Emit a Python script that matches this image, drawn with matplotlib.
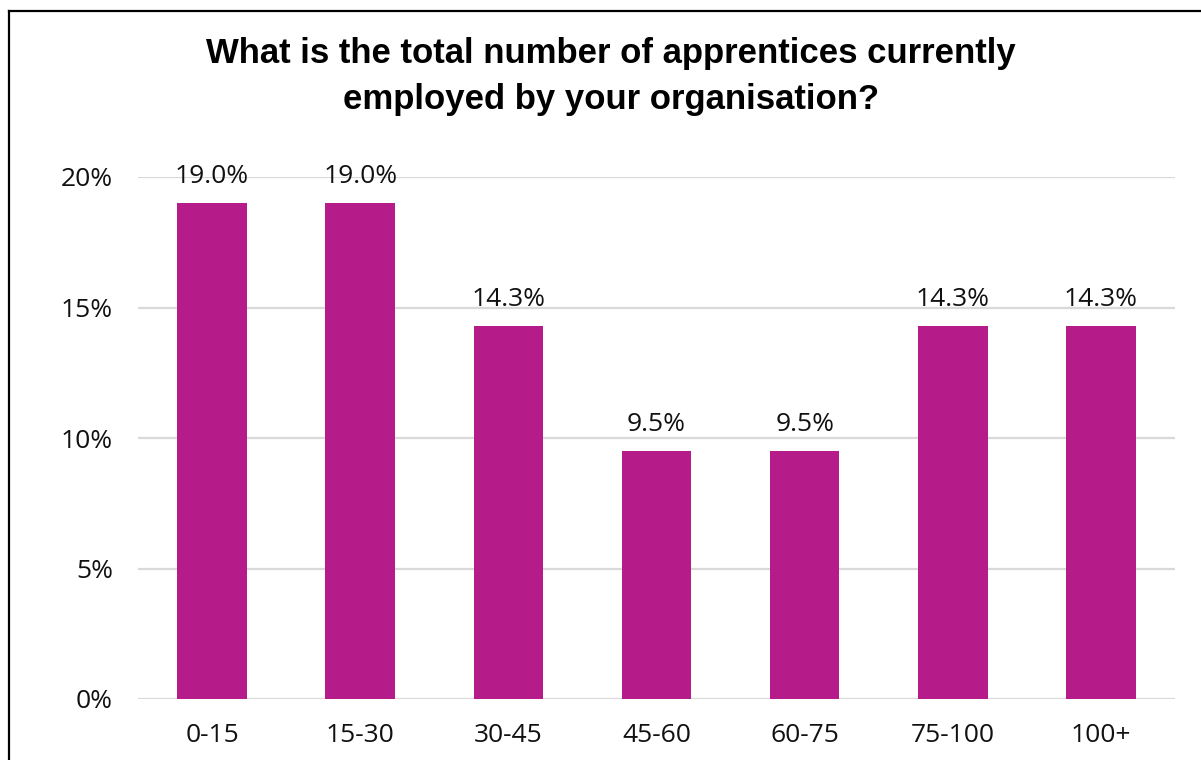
import matplotlib.pyplot as plt
from matplotlib.lines import Line2D

# Data
categories = ["0-15", "15-30", "30-45", "45-60", "60-75", "75-100", "100+"]
values = [19.0, 19.0, 14.3, 9.5, 9.5, 14.3, 14.3]
yticks = [0, 5, 10, 15, 20]

bar_color = "#B61B8A"
grid_color = "#D9D9D9"

plt.rcParams['font.family'] = ['Open Sans', 'DejaVu Sans']

fig = plt.figure(figsize=(12.01, 7.6), dpi=100)
ax = fig.add_axes([138/1201, 1 - 699/760, (1175 - 138)/1201, (699 - 177)/760])

x = range(len(categories))
bars = ax.bar(x, values, width=0.47, color=bar_color, zorder=3)

for b, v in zip(bars, values):
    ax.annotate(f"{v:.1f}%", (b.get_x() + b.get_width()/2, v),
                xytext=(0, 10), textcoords="offset points",
                ha="center", va="bottom", fontsize=19, color="#111111")

ax.set_xlim(-0.5, len(categories) - 0.5)
ax.set_ylim(0, 20)
ax.set_yticks(yticks)
ax.set_yticklabels([f"{t}%" for t in yticks])
ax.set_xticks(list(x))
ax.set_xticklabels(categories)
ax.tick_params(axis="both", length=0, labelsize=19, colors="#111111")
ax.tick_params(axis="y", pad=18)
ax.tick_params(axis="x", pad=17)
ax.yaxis.grid(True, color=grid_color, linewidth=1.6, zorder=0)
ax.set_axisbelow(True)
for s in ax.spines.values():
    s.set_visible(False)

# Title
fig.text(611/1201, 1 - 76/760, "What is the total number of apprentices currently\nemployed by your organisation?",
         ha="center", va="center", fontsize=25, fontweight="bold",
         family=["Liberation Sans", "DejaVu Sans"], linespacing=1.5)

# Chart border (left and top visible)
fig.add_artist(Line2D([9/1201, 9/1201], [0, 1 - 11/760], transform=fig.transFigure,
                      color="black", linewidth=1.6))
fig.add_artist(Line2D([9/1201, 1], [1 - 11/760, 1 - 11/760], transform=fig.transFigure,
                      color="black", linewidth=1.6))

fig.savefig("out.png", dpi=100)
